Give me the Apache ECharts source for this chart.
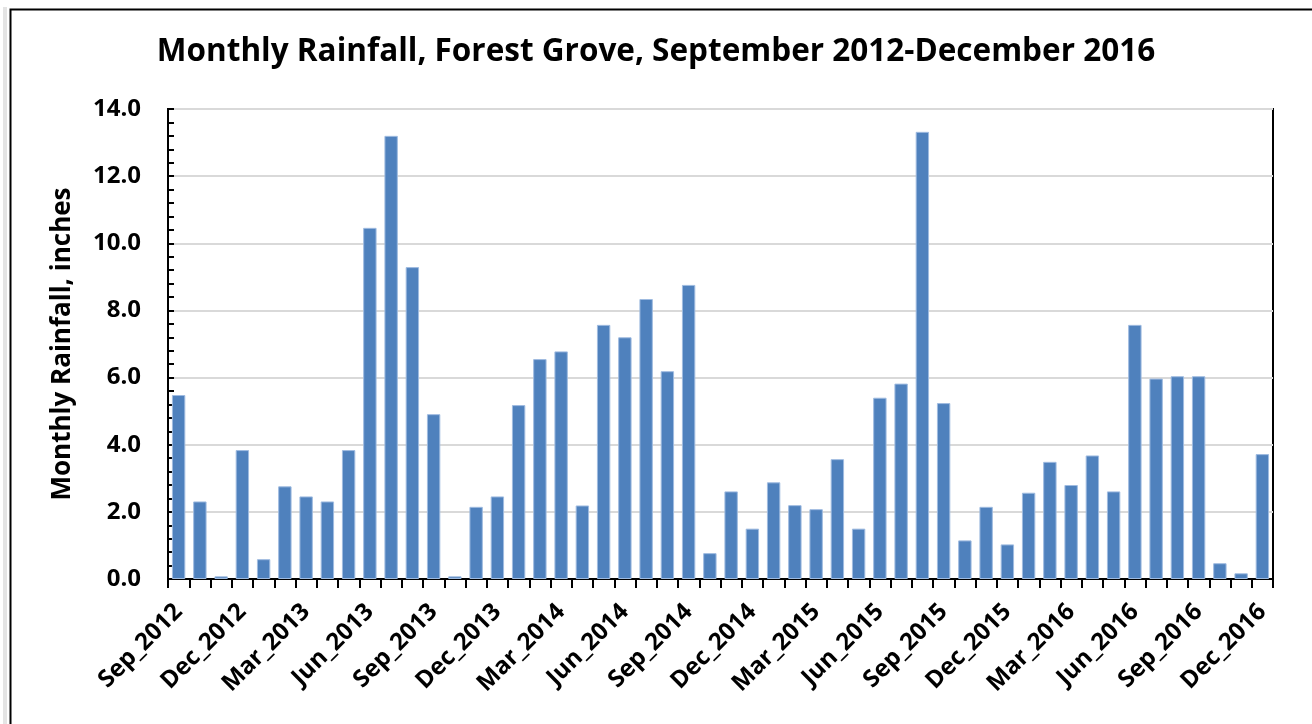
<!DOCTYPE html>
<html>
<head>
<meta charset="utf-8">
<script src="https://cdn.jsdelivr.net/npm/echarts@6/dist/echarts.min.js"></script>
<style>
  html, body { margin: 0; padding: 0; background: #fff; }
  #chart { width: 1312px; height: 724px; }
</style>
</head>
<body>
<div id="chart"></div>
<script>
// month labels, Sep 2012 .. Dec 2016
const months = [
  "Sep_2012", "Oct_2012", "Nov_2012", "Dec_2012",
  "Jan_2013", "Feb_2013", "Mar_2013", "Apr_2013", "May_2013", "Jun_2013",
  "Jul_2013", "Aug_2013", "Sep_2013", "Oct_2013", "Nov_2013", "Dec_2013",
  "Jan_2014", "Feb_2014", "Mar_2014", "Apr_2014", "May_2014", "Jun_2014",
  "Jul_2014", "Aug_2014", "Sep_2014", "Oct_2014", "Nov_2014", "Dec_2014",
  "Jan_2015", "Feb_2015", "Mar_2015", "Apr_2015", "May_2015", "Jun_2015",
  "Jul_2015", "Aug_2015", "Sep_2015", "Oct_2015", "Nov_2015", "Dec_2015",
  "Jan_2016", "Feb_2016", "Mar_2016", "Apr_2016", "May_2016", "Jun_2016",
  "Jul_2016", "Aug_2016", "Sep_2016", "Oct_2016", "Nov_2016", "Dec_2016"
];

// monthly rainfall, inches
const rainfall = [
  5.48, 2.31, 0.08, 3.84,
  0.59, 2.76, 2.46, 2.31, 3.84, 10.46,
  13.2, 9.29, 4.91, 0.08, 2.15, 2.46,
  5.18, 6.55, 6.78, 2.19, 7.57, 7.2,
  8.34, 6.19, 8.76, 0.77, 2.61, 1.5,
  2.88, 2.2, 2.08, 3.57, 1.5, 5.4,
  5.82, 13.32, 5.24, 1.15, 2.15, 1.03,
  2.57, 3.49, 2.8, 3.68, 2.61, 7.57,
  5.97, 6.04, 6.04, 0.47, 0.17, 3.72
];

const yTicks = { min: 0, max: 14, interval: 2 };

const FONT = "'Open Sans', Lato, sans-serif";

const myChart = echarts.init(document.getElementById("chart"));
myChart.setOption({
  animation: false,
  backgroundColor: "#fff",
  textStyle: { fontFamily: FONT },
  title: {
    text: "Monthly Rainfall, Forest Grove, September 2012-December 2016",
    left: "center",
    top: 31,
    textStyle: {
      fontFamily: FONT,
      fontSize: 31.5,
      fontWeight: "bold",
      color: "#000",
    },
  },
  graphic: [
    {
      type: "rect",
      left: 3,
      top: 7,
      shape: { width: 4, height: 800 },
      style: { fill: "#e4e4e4" },
      silent: true,
    },
    {
      type: "rect",
      left: 8,
      top: 7,
      shape: { width: 1400, height: 800 },
      style: { fill: null, stroke: "#000", lineWidth: 2 },
      silent: true,
    },
  ],
  grid: {
    left: 168,
    right: 39,
    top: 109,
    bottom: 145,
    show: true,
    borderColor: "#000",
    borderWidth: 2,
    backgroundColor: "transparent",
  },
  xAxis: {
    type: "category",
    data: months,
    boundaryGap: true,
    axisLine: { lineStyle: { color: "#000", width: 2 } },
    axisTick: {
      show: true,
      interval: 0,
      alignWithLabel: false,
      length: 9,
      lineStyle: { color: "#000", width: 2 },
    },
    axisLabel: {
      interval: 2,
      rotate: 45,
      margin: 29,
      color: "#000",
      fontSize: 24,
      fontWeight: "bold",
      fontFamily: FONT,
    },
    splitLine: { show: false },
  },
  yAxis: {
    type: "value",
    min: yTicks.min,
    max: yTicks.max,
    interval: yTicks.interval,
    name: "Monthly Rainfall, inches",
    nameLocation: "middle",
    nameGap: 92,
    nameTextStyle: {
      color: "#000",
      fontSize: 26,
      fontWeight: "bold",
      fontFamily: FONT,
    },
    axisLine: { show: true, lineStyle: { color: "#000", width: 2 } },
    axisTick: {
      show: true,
      inside: true,
      length: 6,
      lineStyle: { color: "#000", width: 2 },
    },
    minorTick: {
      show: true,
      splitNumber: 5,
      length: 6,
      lineStyle: { color: "#000", width: 2 },
    },
    axisLabel: {
      margin: 27,
      color: "#000",
      fontSize: 24,
      fontWeight: "bold",
      fontFamily: FONT,
      formatter: (v) => v.toFixed(1),
    },
    splitLine: { show: true, lineStyle: { color: "#d9d9d9", width: 2 } },
  },
  series: [
    {
      name: "Rainfall",
      type: "bar",
      data: rainfall,
      barCategoryGap: "37%",
      itemStyle: {
        color: "#4f81bd",
        borderColor: "#9fbbe0",
        borderWidth: 1,
      },
    },
  ],
});
</script>
</body>
</html>
